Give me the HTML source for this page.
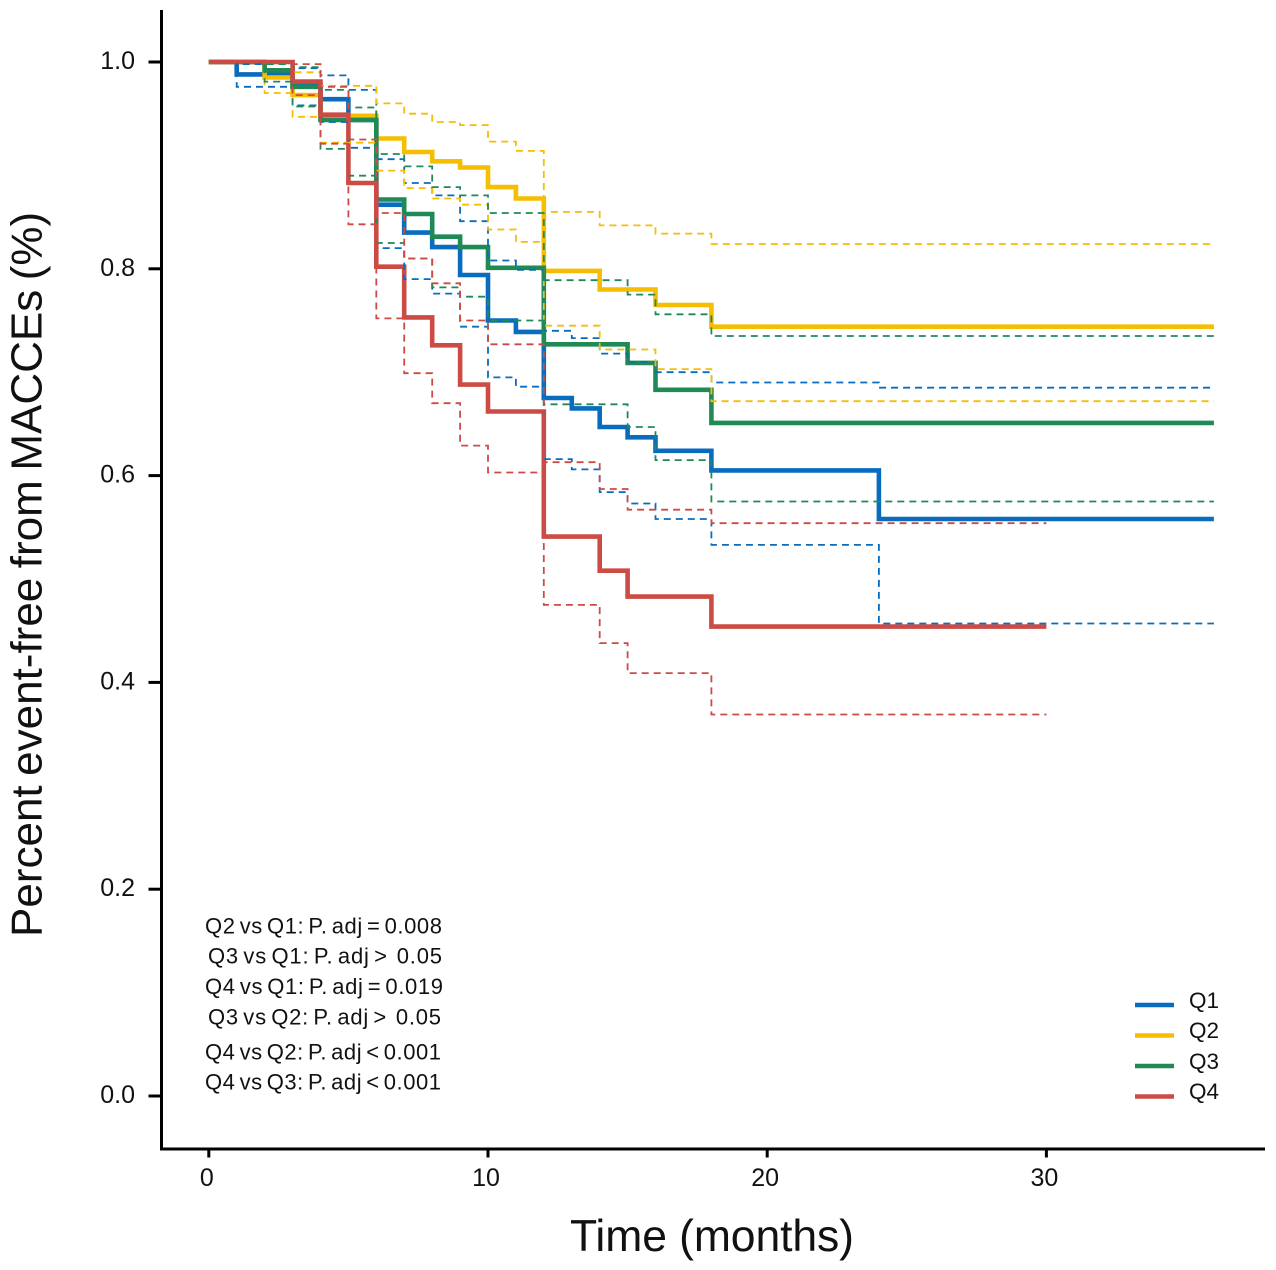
<!DOCTYPE html>
<html lang="en">
<head>
<meta charset="utf-8">
<title>Kaplan-Meier curves: event-free from MACCEs</title>
<style>
html,body{margin:0;padding:0;background:#fff;}
svg{display:block;}
text{font-family:"Liberation Sans",Arial,sans-serif;fill:#111;}
.note{word-spacing:-2.5px;}
</style>
</head>
<body>
<svg id="chart" xmlns="http://www.w3.org/2000/svg" width="1276" height="1270" viewBox="0 0 1276 1270">
  <rect width="1276" height="1270" fill="#fff"/>
  <g id="main-lines"></g>
  <g id="ci-lines"></g>
  <g id="axes">
    <line x1="161.5" y1="10" x2="161.5" y2="1150" stroke="#000" stroke-width="3"/>
    <line x1="160" y1="1149" x2="1265" y2="1149" stroke="#000" stroke-width="3"/>
  </g>
  <text transform="translate(41.5,937) rotate(-90)" font-size="44" style="word-spacing:-2.7px">Percent event-free from MACCEs (%)</text>
  <text x="570" y="1251" font-size="44.5" textLength="284" lengthAdjust="spacing" xml:space="preserve">Time (months)</text>
  <g font-size="22">
    <text class="note" x="205" y="933.5" textLength="237" lengthAdjust="spacing">Q2 vs Q1: P. adj = 0.008</text>
    <text class="note" x="208" y="963.5" textLength="234" lengthAdjust="spacing" xml:space="preserve">Q3 vs Q1: P. adj &gt;  0.05</text>
    <text class="note" x="205" y="994" textLength="238" lengthAdjust="spacing">Q4 vs Q1: P. adj = 0.019</text>
    <text class="note" x="208" y="1024.5" textLength="233" lengthAdjust="spacing" xml:space="preserve">Q3 vs Q2: P. adj &gt;  0.05</text>
    <text class="note" x="205" y="1059.5" textLength="236" lengthAdjust="spacing">Q4 vs Q2: P. adj &lt; 0.001</text>
    <text class="note" x="205" y="1089.5" textLength="236" lengthAdjust="spacing">Q4 vs Q3: P. adj &lt; 0.001</text>
  </g>
  <g font-size="22.5">
    <g>
      <line x1="1135" y1="1005" x2="1174" y2="1005" stroke="#0a6cbf" stroke-width="4.4"/>
      <text x="1189" y="1008">Q1</text>
    </g>
    <g>
      <line x1="1135" y1="1035.5" x2="1174" y2="1035.5" stroke="#f5be00" stroke-width="4.4"/>
      <text x="1189" y="1038">Q2</text>
    </g>
    <g>
      <line x1="1135" y1="1066" x2="1174" y2="1066" stroke="#1f8a55" stroke-width="4.4"/>
      <text x="1189" y="1069">Q3</text>
    </g>
    <g>
      <line x1="1135" y1="1096.5" x2="1174" y2="1096.5" stroke="#cc4b45" stroke-width="4.4"/>
      <text x="1189" y="1099">Q4</text>
    </g>
  </g>
</svg>
<script>
var xTickValues = [0, 10, 20, 30];
var yTickValues = [0, 0.2, 0.4, 0.6, 0.8, 1.0];
var yTickLabels = ["0.0", "0.2", "0.4", "0.6", "0.8", "1.0"];

var q1Times = [0,1,3,4,5,6,7,8,9,10,11,12,13,14,15,16,18,24,36];
var q1Survival = [1,.988,.977,.964,.944,.862,.835,.821,.794,.750,.739,.675,.665,.647,.637,.624,.605,.558,.558];
var q1Upper = [1,.998,.994,.987,.973,.906,.883,.871,.846,.808,.799,.740,.733,.718,.710,.700,.690,.685,.685];
var q1Lower = [1,.976,.958,.942,.917,.820,.790,.776,.744,.695,.686,.616,.606,.584,.573,.558,.533,.457,.457];

var q2Times = [0,2,3,4,6,7,8,9,10,11,12,14,16,18,36];
var q2Survival = [1,.985,.968,.948,.926,.913,.904,.898,.879,.868,.798,.780,.765,.744,.744];
var q2Upper = [1,.998,.990,.977,.960,.950,.942,.939,.923,.914,.855,.842,.834,.824,.824];
var q2Lower = [1,.970,.947,.922,.895,.878,.868,.862,.838,.826,.745,.722,.703,.672,.672];

var q3Times = [0,2,3,4,5,6,7,8,9,10,12,15,16,18,36];
var q3Survival = [1,.992,.976,.944,.944,.867,.853,.831,.821,.801,.727,.709,.683,.651,.651];
var q3Upper = [1,.998,.995,.973,.956,.911,.899,.879,.871,.854,.789,.775,.756,.735,.735];
var q3Lower = [1,.981,.957,.916,.890,.825,.810,.782,.773,.750,.669,.647,.615,.575,.575];

var q4Times = [0,3,4,5,6,7,8,9,10,12,14,15,18,30];
var q4Survival = [1,.981,.949,.883,.802,.753,.726,.688,.662,.541,.508,.483,.454,.454];
var q4Upper = [1,.998,.976,.925,.854,.810,.786,.750,.727,.613,.587,.567,.554,.554];
var q4Lower = [1,.968,.921,.843,.752,.699,.670,.629,.603,.475,.438,.409,.369,.369];

var SVG_NS = "http://www.w3.org/2000/svg";

function xScale(t) { return 208.8 + 27.92 * t; }
function yScale(v) { return 62 + (1 - v) * 1034; }

function stepPath(times, values) {
  var d = "M" + xScale(times[0]).toFixed(1) + " " + yScale(values[0]).toFixed(1);
  for (var i = 1; i < times.length; i++) {
    d += "H" + xScale(times[i]).toFixed(1);
    d += "V" + yScale(values[i]).toFixed(1);
  }
  return d;
}

function drawLine(parent, name, times, values, color, width, dashed) {
  var p = document.createElementNS(SVG_NS, "path");
  p.setAttribute("d", stepPath(times, values));
  p.setAttribute("fill", "none");
  p.setAttribute("stroke", color);
  p.setAttribute("stroke-width", width);
  p.setAttribute("stroke-linejoin", "miter");
  if (dashed) { p.setAttribute("stroke-dasharray", "7 5"); }
  
  
  parent.appendChild(p);
}

var mainGroup = document.getElementById("main-lines");
var ciGroup = document.getElementById("ci-lines");
var axesGroup = document.getElementById("axes");

drawLine(mainGroup, "survival-line-q1", q1Times, q1Survival, "#0a6cbf", 4.6, false);
drawLine(mainGroup, "survival-line-q2", q2Times, q2Survival, "#f5be00", 4.6, false);
drawLine(mainGroup, "survival-line-q3", q3Times, q3Survival, "#1f8a55", 4.6, false);
drawLine(mainGroup, "survival-line-q4", q4Times, q4Survival, "#cc4b45", 4.6, false);

drawLine(ciGroup, "upper-ci-q1", q1Times, q1Upper, "#0a6cbf", 1.8, true);
drawLine(ciGroup, "lower-ci-q1", q1Times, q1Lower, "#0a6cbf", 1.8, true);
drawLine(ciGroup, "upper-ci-q2", q2Times, q2Upper, "#f5be00", 1.8, true);
drawLine(ciGroup, "lower-ci-q2", q2Times, q2Lower, "#f5be00", 1.8, true);
drawLine(ciGroup, "upper-ci-q3", q3Times, q3Upper, "#1f8a55", 1.8, true);
drawLine(ciGroup, "lower-ci-q3", q3Times, q3Lower, "#1f8a55", 1.8, true);
drawLine(ciGroup, "upper-ci-q4", q4Times, q4Upper, "#cc4b45", 1.8, true);
drawLine(ciGroup, "lower-ci-q4", q4Times, q4Lower, "#cc4b45", 1.8, true);

xTickValues.forEach(function (t) {
  var tick = document.createElementNS(SVG_NS, "line");
  tick.setAttribute("x1", xScale(t));
  tick.setAttribute("x2", xScale(t));
  tick.setAttribute("y1", 1149);
  tick.setAttribute("y2", 1157.5);
  tick.setAttribute("stroke", "#000");
  tick.setAttribute("stroke-width", 3);
  
  
  axesGroup.appendChild(tick);

  var label = document.createElementNS(SVG_NS, "text");
  label.setAttribute("x", xScale(t) - 2);
  label.setAttribute("y", 1186);
  label.setAttribute("font-size", 25);
  label.setAttribute("text-anchor", "middle");
  label.textContent = String(t);
  
  
  axesGroup.appendChild(label);
});

yTickValues.forEach(function (v, i) {
  var tick = document.createElementNS(SVG_NS, "line");
  tick.setAttribute("x1", 148.5);
  tick.setAttribute("x2", 161.5);
  tick.setAttribute("y1", yScale(v));
  tick.setAttribute("y2", yScale(v));
  tick.setAttribute("stroke", "#000");
  tick.setAttribute("stroke-width", 3);
  
  
  axesGroup.appendChild(tick);

  var label = document.createElementNS(SVG_NS, "text");
  label.setAttribute("x", 135);
  label.setAttribute("y", yScale(v) + 7);
  label.setAttribute("font-size", 25);
  label.setAttribute("text-anchor", "end");
  label.textContent = yTickLabels[i];
  
  
  axesGroup.appendChild(label);
});
</script>
</body>
</html>
